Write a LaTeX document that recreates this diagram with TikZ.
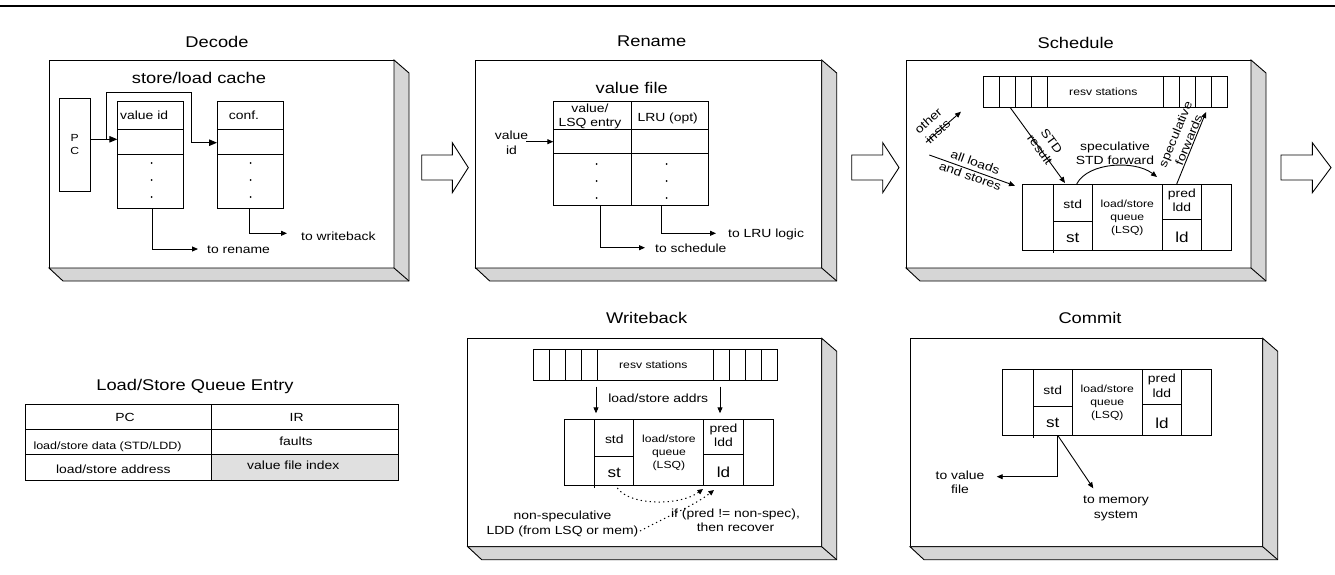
\documentclass[tikz,border=0pt]{standalone}
\usepackage{fontspec}
\setmainfont{Liberation Sans}[FakeStretch=1.18]
\usetikzlibrary{arrows.meta,calc}
\definecolor{slabgray}{gray}{0.84}
\definecolor{cellgray}{gray}{0.88}

% one pipeline stage: front panel with a bevelled 3-D edge
\newcommand\stageslab[5]{% name, x, y, width, height
  \node[box, fill=white, minimum width=#4pt, minimum height=#5pt] (#1) at (#2,#3) {};
  \filldraw[ln, fill=slabgray] (#1.north east) -- ++(15,13) -- ([shift={(15,13)}]#1.south east)
     -- ([shift={(14,13)}]#1.south west) -- (#1.south west) -- (#1.south east) -- cycle;
  \draw[ln] (#1.south east) -- ++(15,13);
}
% reservation-station strip
\newcommand\resvrow[3]{% name, x, y
  \node[box, minimum width=244pt, minimum height=31pt] (#1) at (#2,#3) {};
  \foreach \d in {16,32,48,64,180,196,212,228}
    \draw[ln] ($(#1.north west)+(\d,0)$) -- ($(#1.south west)+(\d,0)$);
  \node[sm] (#1-t) at ($(#1.west)+(120,0)$) {resv stations};
}
% load/store queue strip
\newcommand\lsqrow[3]{% name, x, y
  \node[box, minimum width=209pt, minimum height=66pt] (#1) at (#2,#3) {};
  \draw[ln] ($(#1.north west)+(30.6,0)$) -- ($(#1.south west)+(30.6,3)$);
  \foreach \d in {69.6,139.6,178.7}
    \draw[ln] ($(#1.north west)+(\d,0)$) -- ($(#1.south west)+(\d,0)$);
  \draw[ln] ($(#1.north west)+(30.6,37)$) -- ++(39,0);
  \draw[ln] ($(#1.north west)+(139.6,35)$) -- ++(39.1,0);
  \node[lb] (#1-std) at ($(#1.north west)+(50,20.5)$) {std};
  \node[bg] (#1-st) at ($(#1.north west)+(50,53.7)$) {st};
  \node[sm] (#1-q) at ($(#1.north west)+(104.6,33.6)$) {load/store\\queue\\(LSQ)};
  \node[lb] (#1-pd) at ($(#1.north west)+(159.2,16.5)$) {pred\\ldd};
  \node[bg] (#1-ld) at ($(#1.north west)+(159.2,53.7)$) {ld};
}
% hollow flow arrow between stages
\newcommand\flowarrow[3]{% shaft start, head base, tip
  \draw[ln, fill=white] (#1,155) -- (#2,155) -- (#2,142.7) -- (#3,167.6)
     -- (#2,192.7) -- (#2,180) -- (#1,180) -- cycle;
}

\begin{document}
\begin{tikzpicture}[x=1pt, y=-1pt,
  ln/.style={line width=0.9pt},
  box/.style={draw, line width=0.9pt, inner sep=0pt, outer sep=0pt, anchor=north west},
  tt/.style={font=\fontsize{15.5}{18}\selectfont, inner sep=0pt},
  lb/.style={font=\fontsize{11.8}{14.5}\selectfont, inner sep=0pt, align=center},
  sm/.style={font=\fontsize{10.3}{12.8}\selectfont, inner sep=0pt, align=center},
  bg/.style={font=\fontsize{14.5}{16}\selectfont, inner sep=0pt},
  arr/.style={line width=0.9pt, -{Triangle[length=6pt,width=5pt]}},
  arrB/.style={line width=0.9pt, -{Triangle[length=8pt,width=6.5pt]}},
  dotarr/.style={line width=1pt, dash pattern=on 1.3pt off 3.2pt, -{Triangle[length=5.5pt,width=5pt]}},
  dot/.style={fill=black}]
\useasboundingbox (0,0) rectangle (1335,575);

% header rule
\draw[line width=2.6pt] (0,6.1) -- (1335,6.1);

% ---------------- Decode ----------------
\stageslab{dec}{49}{60}{345}{208}
\node[tt] (decT) at (217,41.7) {Decode};
\node[tt] (slc) at (199,77.5) {store/load cache};
\node[box, minimum width=31pt, minimum height=93pt] (pc) at (59.3,98.3) {};
\node[sm] (pcT) at (pc.center) {P\\C};
\node[box, minimum width=66pt, minimum height=107.3pt] (vid) at (117.3,101) {};
\draw[ln] (117.3,129.3) -- (183.3,129.3) (117.3,154.7) -- (183.3,154.7);
\node[lb, anchor=west] (vidT) at (120,115) {value id};
\node[box, minimum width=66.3pt, minimum height=107.3pt] (conf) at (217,101) {};
\draw[ln] (217,129.3) -- (283.3,129.3) (217,154.7) -- (283.3,154.7);
\node[lb] (confT) at (244,115) {conf.};
\foreach \yy in {163,180,197} {
  \fill[dot] (151.7,\yy) circle (1pt);
  \fill[dot] (250.7,\yy) circle (1pt);
}
\coordinate (pcj) at (106,139.3);
\coordinate (lp) at (191,92.3);
\coordinate (cfin) at (191,142.7);
\draw[arrB] (pc.east |- pcj) -- (vid.west |- pcj);
\draw[arrB] (pcj) |- (lp) -- (cfin) -- (conf.west |- cfin);
\coordinate (torn) at (198,249);
\draw[arr] ([xshift=2.4pt]vid.south) |- (torn);
\node[lb, anchor=west] (tornT) at (207,250) {to rename};
\coordinate (towb) at (287,233.3);
\draw[arr] ([xshift=-0.8pt]conf.south) |- (towb);
\node[lb, anchor=west] (towbT) at (301,236) {to writeback};

\flowarrow{421.7}{452.3}{468.3}

% ---------------- Rename ----------------
\stageslab{ren}{475.7}{60}{346}{208}
\node[tt] (renT) at (651.7,41.7) {Rename};
\node[tt] (vfT) at (631.7,87.5) {value file};
\node[box, minimum width=155pt, minimum height=104pt] (vf) at (553.3,101.7) {};
\draw[ln] (631,101.7) -- (631,205.7);
\draw[ln] (553.3,129) -- (708.3,129) (553.3,153.7) -- (708.3,153.7);
\node[lb] (vfA) at (590,116.5) {value/\\LSQ entry};
\node[lb] (vfB) at (667.7,118.5) {LRU (opt)};
\foreach \yy in {164,181,198} {
  \fill[dot] (596.7,\yy) circle (1pt);
  \fill[dot] (666.7,\yy) circle (1pt);
}
\node[lb] (vidin) at (511.5,143) {value\\id};
\coordinate (vfin) at (526,141.7);
\draw[arr] (vfin) -- (vf.west |- vfin);
\coordinate (tosc) at (645,247.7);
\draw[arr] ($(vf.south west)+(46.7,0)$) |- (tosc);
\node[lb, anchor=west] (toscT) at (655,248.5) {to schedule};
\coordinate (tolru) at (716,233.3);
\draw[arr] ($(vf.south west)+(108.4,0)$) |- (tolru);
\node[lb, anchor=west] (tolruT) at (728,234) {to LRU logic};

\flowarrow{851.7}{882.7}{899}

% ---------------- Schedule ----------------
\stageslab{sch}{906}{60}{345}{208}
\node[tt] (schT) at (1075.7,42.5) {Schedule};
\resvrow{rsA}{983.3}{76.3}
\lsqrow{sqA}{1022.7}{184}
\coordinate (stdr) at (1065,183);
\draw[arr] ($(rsA.south west)+(26.7,0)$) -- (stdr);
\node[lb, rotate=-54] (stdrT) at (1045.7,145.3) {STD\\result};
\coordinate (sfwd) at (1157,177);
\draw[arr] ($(sqA.north west)+(54,0)$) .. controls (1088,162) and (1135,160) .. (sfwd);
\node[lb] (sfwdT) at (1115,153.5) {speculative\\STD forward};
\coordinate (spf) at (1206,112);
\draw[arr] ($(sqA.north west)+(154,0)$) -- (spf);
\node[lb, rotate=67.5] (spfT) at (1182,137) {speculative\\forwards};
\coordinate (oi0) at (926,142.3);
\coordinate (oi1) at (961,111.7);
\draw[arr] (oi0) -- (oi1);
\node[lb, rotate=42] (oiT) at (933,126) {other\\insts};
\coordinate (al0) at (929.3,155);
\coordinate (al1) at (1015,185.7);
\draw[arr] (al0) -- (al1);
\node[lb, rotate=-19.7] (alT) at (972.8,169.2) {all loads\\and stores};

\flowarrow{1281}{1312.3}{1331}

% ---------------- Load/Store Queue Entry ----------------
\node[tt] (lqeT) at (195,386) {Load/Store Queue Entry};
\fill[cellgray] (211.7,454.7) rectangle (398.3,480);
\node[box, minimum width=372.6pt, minimum height=75.7pt] (lqe) at (25.7,404.3) {};
\draw[ln] (25.7,429.3) -- (398.3,429.3) (25.7,454.7) -- (398.3,454.7);
\draw[ln] (211.7,404.3) -- (211.7,480);
\node[lb] (fPC) at (125,417.7) {PC};
\node[lb] (fIR) at (296.7,417.7) {IR};
\node[font=\fontsize{10.6}{12}\selectfont, inner sep=0pt, anchor=west] (fData) at (33.3,446.5) {load/store data (STD/LDD)};
\node[lb] (fFlt) at (296,441) {faults};
\node[lb] (fAdr) at (113.3,469.3) {load/store address};
\node[lb] (fIdx) at (293.3,465.7) {value file index};

% ---------------- Writeback ----------------
\stageslab{wb}{467.7}{338.3}{354}{208.4}
\node[tt] (wbT) at (646.7,318) {Writeback};
\resvrow{rsB}{533.3}{349}
\lsqrow{sqB}{564.3}{419}
\coordinate (wa0) at (596,386.7);
\coordinate (wa1) at (596,413.3);
\coordinate (wb0) at (720,386.7);
\coordinate (wb1) at (720,413.3);
\draw[arr] (wa0) -- (wa1);
\draw[arr] (wb0) -- (wb1);
\node[lb] (addrT) at (658.3,398) {load/store addrs};
\coordinate (ldd1) at (703,489);
\coordinate (ldd2) at (714,490);
\coordinate (nsp) at (640,531);
\draw[dotarr] ($(sqB.south west)+(53,3)$) .. controls (630,506) and (680,506) .. (ldd1);
\draw[dotarr] (nsp) .. controls (670,515) and (695,505) .. (ldd2);
\node[lb] (nspT) at (562.5,524) {non-speculative\\LDD (from LSQ or mem)};
\node[lb] (recT) at (735.5,520.5) {if (pred != non-spec),\\then recover};

% ---------------- Commit ----------------
\stageslab{cm}{910}{338.3}{352.7}{208.4}
\node[tt] (cmT) at (1090,318) {Commit};
\lsqrow{sqC}{1002.7}{369.3}
\coordinate (cst) at ($(sqC.south west)+(55,0)$);
\coordinate (tvf) at (996.7,476.7);
\coordinate (tms) at (1093.3,488.3);
\draw[arr] (cst) |- (tvf);
\draw[arr] (cst) -- (tms);
\node[lb] (tvfT) at (960,482.2) {to value\\file};
\node[lb] (tmsT) at (1116,508.5) {to memory\\system};
\end{tikzpicture}
\end{document}
